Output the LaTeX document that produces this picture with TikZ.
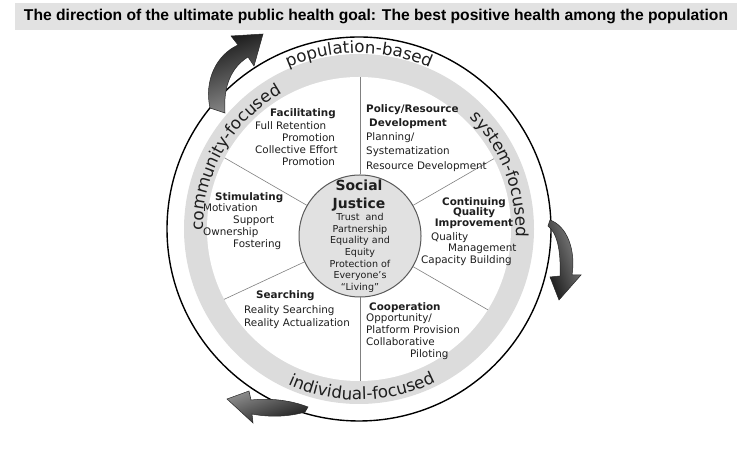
\documentclass[tikz,border=0pt]{standalone}
\usepackage{fontspec}
\setmainfont{DejaVu Sans}
\newfontfamily\titlefont{Liberation Sans}
\usetikzlibrary{decorations.text}
\definecolor{ringgray}{HTML}{DCDCDC}
\definecolor{hubgray}{HTML}{E1E1E1}
\definecolor{titlegray}{HTML}{E2E2E2}
\definecolor{inkgray}{HTML}{1E1E1E}
\newcommand\ringfont{\fontsize{16.8}{16.8}\selectfont}
\newcommand\blockfont{\fontsize{10.4}{11.8}\selectfont}
\begin{document}
\begin{tikzpicture}[x=1bp,y=1bp,
	block/.style={anchor=north west,align=left,inner sep=0pt,text=inkgray,font=\blockfont},
	spoke/.style={draw=black!50,line width=0.6bp},
	ringtext/.style={decorate,decoration={text along path,text align=center,text color=inkgray,text={|\ringfont|#1}}},
	bigarrow/.style={draw=black!85,line width=0.5bp,left color=black!90,right color=black!45,shading angle=#1}]
	\useasboundingbox (0,0) rectangle (750,455);
	\node [fill=titlegray,minimum width=722bp,minimum height=27bp,inner sep=0pt] (title) at (376,438.5) {\resizebox{704bp}{!}{\titlefont\bfseries\fontsize{14}{14}\selectfont The direction of the ultimate public health goal: The best positive health among the population}};
	% rings
	\coordinate (O) at (359,226);
	\fill [ringgray] (O) circle (175);
	\fill [white] (O) circle (152);
	\draw [line width=1.4bp] (O) circle (192);
	\node [circle,fill=hubgray,draw=black!65,line width=1bp,minimum size=122bp,inner sep=0pt] (hub) at (360,219) {};
	\begin{scope}
		\clip (O) circle (152);
		\foreach \a in {90,30,330,270,205,150}
			\draw [spoke] (hub.\a) -- ++(\a:130);
	\end{scope}
	\path [ringtext=population-based] (O) ++(118:176) arc (118:62:176);
	\path [ringtext=system-focused] (O) ++(56:157) arc (56:-14:157);
	\path [ringtext=community-focused] (O) ++(188:156) arc (188:112:156);
	\path [ringtext=individual-focused] (O) ++(232:171) arc (232:310:171);
	% sectors
	\node [block] (facil) at (255,347) {\hspace*{15bp}\textbf{Facilitating}\\[2bp]Full Retention\\\hspace*{27bp}Promotion\\Collective Effort\\\hspace*{27bp}Promotion};
	\node [block] (stim) at (203,263) {\hspace*{12bp}\textbf{Stimulating}\\Motivation\\\hspace*{30bp}Support\\Ownership\\\hspace*{30bp}Fostering};
	\node [block,font=\fontsize{10.4}{14.3}\selectfont] (policy) at (366,351) {\textbf{Policy/Resource}\\\hspace*{3bp}\textbf{Development}\\Planning/\\Systematization\\Resource Development};
	\node [block,anchor=north,align=center,font=\bfseries\fontsize{10.4}{10.6}\selectfont] (cqi) at (474,258) {Continuing\\Quality\\Improvement};
	\node [block] (cqitext) at (421,223) {\hspace*{10bp}Quality\\\hspace*{27bp}Management\\Capacity Building};
	\node [block,font=\fontsize{10.4}{14}\selectfont] (search) at (244,165) {\hspace*{12bp}\textbf{Searching}\\[1bp]Reality Searching\\Reality Actualization};
	\node [block] (coop) at (366,153) {\hspace*{3bp}\textbf{Cooperation}\\Opportunity/\\Platform Provision\\Collaborative\\\hspace*{44bp}Piloting};
	\node [block,anchor=north,align=center,font=\bfseries\fontsize{14}{18}\selectfont] (justice) at (359,275) {Social\\Justice};
	\node [block,anchor=north,align=center,font=\fontsize{9.6}{11.7}\selectfont] (justicetext) at (360,242) {Trust\ \ and\\Partnership\\Equality and\\Equity\\Protection of\\Everyone’s\\“Living”};
	% arrows
	\shade [bigarrow=20] (210,347) .. controls (204,374) and (216,400) .. (238,410) -- (231,419) -- (263,421) -- (254,389) -- (248,398) .. controls (232,388) and (223,370) .. (225,342) -- cycle;
	\shade [bigarrow=110] (550,235) .. controls (567,229) and (576,205) .. (572,180) -- (581,180) -- (559,155) -- (550,178) -- (560,179) .. controls (561,205) and (557,222) .. (548,229) -- cycle;
	\shade [bigarrow=200] (308,48) .. controls (290,55) and (270,57) .. (251,55) -- (249,64) -- (227,56) -- (253,32) -- (252,41) .. controls (272,37) and (292,39) .. (305,43) -- cycle;
\end{tikzpicture}
\end{document}
